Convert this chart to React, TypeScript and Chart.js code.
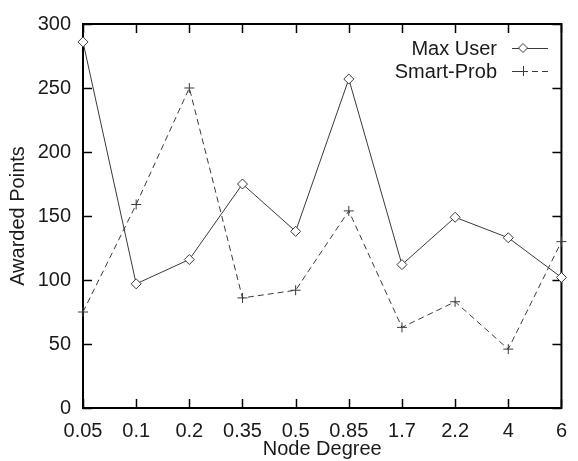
import React, { useEffect, useRef } from "react";
import { Chart, registerables } from "chart.js";

Chart.register(...registerables);

const categories = ["0.05", "0.1", "0.2", "0.35", "0.5", "0.85", "1.7", "2.2", "4", "6"];
const maxUser = [286, 97, 116, 175, 138, 257, 112, 149, 133, 102];
const smartProb = [75, 159, 250, 86, 92, 154, 63, 83, 46, 130];
const seriesNames = ["Max User", "Smart-Prob"];
const yMin = 0;
const yMax = 300;
const yStep = 50;
const xTitle = "Node Degree";
const yTitle = "Awarded Points";

const FONT = "'Liberation Sans', Arial, Helvetica, sans-serif";
const TEXT = "#1a1a1a";
const LINE = "#3a3a3a";

const framePlugin = {
  id: "frame",
  beforeDatasetsDraw(chart: any) {
    const { ctx, chartArea } = chart;
    const { left, right, top, bottom } = chartArea;
    const xs = chart.scales.x;
    const ys = chart.scales.y;
    const tl = 9;
    ctx.save();
    ctx.strokeStyle = "#000";
    ctx.lineWidth = 1.5;
    ctx.beginPath();
    xs.ticks.forEach((_t: any, i: number) => {
      const x = Math.round(xs.getPixelForTick(i)) + 0.5;
      ctx.moveTo(x, bottom);
      ctx.lineTo(x, bottom - tl);
      ctx.moveTo(x, top);
      ctx.lineTo(x, top + tl);
    });
    ys.ticks.forEach((_t: any, i: number) => {
      const y = Math.round(ys.getPixelForTick(i)) + 0.5;
      ctx.moveTo(left, y);
      ctx.lineTo(left + tl, y);
      ctx.moveTo(right, y);
      ctx.lineTo(right - tl, y);
    });
    ctx.stroke();
    ctx.lineWidth = 2;
    ctx.strokeRect(left, top, right - left, bottom - top);
    ctx.restore();
  },
};

const legendPlugin = {
  id: "customLegend",
  afterDraw(chart: any) {
    const { ctx } = chart;
    const textRight = 497;
    const lineX1 = 512;
    const lineX2 = 548;
    const markX = 523;
    const rows = [48, 71];
    ctx.save();
    ctx.font = `20px ${FONT}`;
    ctx.fillStyle = TEXT;
    ctx.textAlign = "right";
    ctx.textBaseline = "middle";
    chart.data.datasets.forEach((ds: any, i: number) => {
      const y = rows[i];
      ctx.fillText(ds.label, textRight, y + 1);
      ctx.strokeStyle = ds.borderColor;
      ctx.lineWidth = 1;
      ctx.setLineDash(ds.borderDash || []);
      ctx.beginPath();
      ctx.moveTo(lineX1, y + 0.5);
      ctx.lineTo(lineX2, y + 0.5);
      ctx.stroke();
      ctx.setLineDash([]);
      ctx.beginPath();
      if (ds.pointStyle === "rectRot") {
        const r = 4.5;
        ctx.moveTo(markX, y - r);
        ctx.lineTo(markX + r, y);
        ctx.lineTo(markX, y + r);
        ctx.lineTo(markX - r, y);
        ctx.closePath();
        ctx.fillStyle = "#fff";
        ctx.fill();
      } else {
        const r = 5;
        ctx.moveTo(markX - r, y + 0.5);
        ctx.lineTo(markX + r, y + 0.5);
        ctx.moveTo(markX + 0.5, y - r);
        ctx.lineTo(markX + 0.5, y + r);
      }
      ctx.stroke();
      ctx.fillStyle = TEXT;
    });
    ctx.restore();
  },
};

export default function App() {
  const ref = useRef<HTMLCanvasElement>(null);
  useEffect(() => {
    document.body.style.margin = "0";
    const canvas = ref.current!;
    const chart = new Chart(canvas, {
      type: "line",
      data: {
        labels: categories,
        datasets: [
          {
            label: seriesNames[0],
            data: maxUser,
            borderColor: LINE,
            backgroundColor: "#ffffff",
            borderWidth: 1,
            pointStyle: "rectRot",
            pointRadius: 5,
            pointBorderWidth: 1,
            pointBorderColor: LINE,
            pointBackgroundColor: "#ffffff",
            tension: 0,
            clip: false,
          },
          {
            label: seriesNames[1],
            data: smartProb,
            borderColor: LINE,
            backgroundColor: LINE,
            borderWidth: 1,
            borderDash: [6, 4],
            pointStyle: "cross",
            pointRadius: 5,
            pointBorderWidth: 1,
            pointBorderColor: LINE,
            tension: 0,
            clip: false,
          },
        ],
      } as any,
      options: {
        responsive: false,
        animation: false,
        layout: { padding: { left: 0, top: 18, right: 6, bottom: 0 } },
        plugins: {
          legend: { display: false },
          tooltip: { enabled: false },
        },
        scales: {
          x: {
            type: "category",
            offset: false,
            grid: { display: false, drawTicks: false },
            border: { display: false },
            ticks: {
              autoSkip: false,
              maxRotation: 0,
              padding: 11,
              color: TEXT,
              font: { family: FONT, size: 20 },
            },
            title: {
              display: true,
              text: xTitle,
              color: TEXT,
              font: { family: FONT, size: 20 },
              padding: { top: 0, bottom: 0 },
            },
            afterFit(scale: any) {
              scale.height = 53;
            },
          },
          y: {
            min: yMin,
            max: yMax,
            grid: { display: false, drawTicks: false },
            border: { display: false },
            ticks: {
              stepSize: yStep,
              padding: 12,
              color: TEXT,
              font: { family: FONT, size: 20 },
            },
            title: {
              display: true,
              text: yTitle,
              color: TEXT,
              font: { family: FONT, size: 20 },
              padding: { top: 6, bottom: 0 },
            },
            afterFit(scale: any) {
              scale.width = 83;
            },
          },
        },
      } as any,
      plugins: [framePlugin, legendPlugin],
    });
    return () => chart.destroy();
  }, []);
  return (
    <div style={{ position: "fixed", left: 0, top: 0, width: 578, height: 461, background: "#fff" }}>
      <canvas ref={ref} width={578} height={461} style={{ display: "block" }} />
    </div>
  );
}
